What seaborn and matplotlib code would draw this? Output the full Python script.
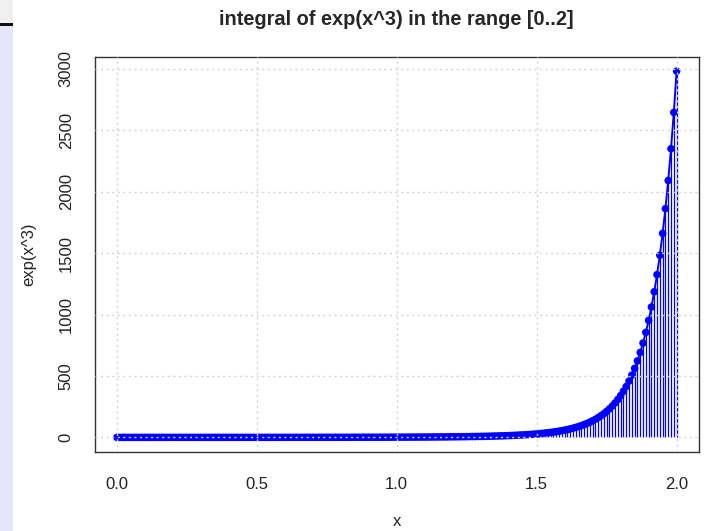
import matplotlib
matplotlib.use("Agg")
import matplotlib.pyplot as plt
import seaborn as sns
import pandas as pd
from matplotlib.patches import Rectangle

# x values (step 0.01 from 0 to 2)
x_vals = [round(i / 100, 2) for i in range(201)]
# exp(x^3) read per point
y_vals = [
    1.00, 1.00, 1.00, 1.00, 1.00, 1.00, 1.00, 1.00, 1.00, 1.00,
    1.00, 1.00, 1.00, 1.00, 1.00, 1.00, 1.00, 1.00, 1.01, 1.01,
    1.01, 1.01, 1.01, 1.01, 1.01, 1.02, 1.02, 1.02, 1.02, 1.02,
    1.03, 1.03, 1.03, 1.04, 1.04, 1.04, 1.05, 1.05, 1.06, 1.06,
    1.07, 1.07, 1.08, 1.08, 1.09, 1.10, 1.10, 1.11, 1.12, 1.12,
    1.13, 1.14, 1.15, 1.16, 1.17, 1.18, 1.19, 1.20, 1.22, 1.23,
    1.24, 1.25, 1.27, 1.28, 1.30, 1.32, 1.33, 1.35, 1.37, 1.39,
    1.41, 1.43, 1.45, 1.48, 1.50, 1.52, 1.55, 1.58, 1.61, 1.64,
    1.67, 1.70, 1.74, 1.77, 1.81, 1.85, 1.89, 1.93, 1.98, 2.02,
    2.07, 2.12, 2.18, 2.24, 2.29, 2.36, 2.42, 2.49, 2.56, 2.64,
    2.72, 2.80, 2.89, 2.98, 3.08, 3.18, 3.29, 3.40, 3.52, 3.65,
    3.78, 3.93, 4.08, 4.23, 4.40, 4.58, 4.76, 4.96, 5.17, 5.39,
    5.63, 5.88, 6.15, 6.43, 6.73, 7.05, 7.39, 7.75, 8.14, 8.56,
    9.00, 9.47, 9.97, 10.51, 11.09, 11.71, 12.37, 13.08, 13.85, 14.67,
    15.55, 16.50, 17.52, 18.62, 19.81, 21.09, 22.47, 23.96, 25.58, 27.33,
    29.22, 31.28, 33.51, 35.93, 38.56, 41.42, 44.54, 47.94, 51.64, 55.69,
    60.10, 64.93, 70.21, 76.00, 82.35, 89.31, 96.96, 105.4, 114.6, 124.8,
    136.1, 148.4, 162.1, 177.3, 194.1, 212.6, 233.2, 256.0, 281.4, 309.6,
    341.1, 376.1, 415.2, 458.9, 507.6, 562.1, 623.3, 691.8, 768.7, 855.2,
    952.6, 1062, 1186, 1325, 1483, 1661, 1862, 2091, 2350, 2645,
    2981,
]
x_ticks = [0.0, 0.5, 1.0, 1.5, 2.0]
x_tick_labels = ["0.0", "0.5", "1.0", "1.5", "2.0"]
y_ticks = [0, 500, 1000, 1500, 2000, 2500, 3000]
y_tick_labels = ["0", "500", "1000", "1500", "2000", "2500", "3000"]
title = "integral of exp(x^3) in the range [0..2]"
x_label = "x"
y_label = "exp(x^3)"

df = pd.DataFrame({"x": x_vals, "y": y_vals})

sns.set_style("white")
plt.rcParams["font.family"] = ["Liberation Sans", "DejaVu Sans"]

W, H = 704, 531
fig = plt.figure(figsize=(W / 100, H / 100), dpi=100)
# left strip decorations
fig.patches.append(Rectangle((0, 0), 13 / W, (H - 26) / H, transform=fig.transFigure,
                             facecolor="#e6e6fa", edgecolor="none", zorder=0))
fig.patches.append(Rectangle((0, (H - 23.5) / H), 13 / W, 23.5 / H, transform=fig.transFigure,
                             facecolor="#f0f0f0", edgecolor="none", zorder=0))
fig.patches.append(Rectangle((0, (H - 26) / H), 13 / W, 2.5 / H, transform=fig.transFigure,
                             facecolor="#111111", edgecolor="none", zorder=0))

left, right, top, bottom = 94.5, 699, 56.5, 452
ax = fig.add_axes([left / W, 1 - bottom / H, (right - left) / W, (bottom - top) / H])

blue = "#0000ff"
ax.vlines(df["x"], 0, df["y"], colors=blue, linewidth=0.9, zorder=2)
sns.lineplot(data=df, x="x", y="y", ax=ax, color=blue, linewidth=1.4, zorder=3)
sns.scatterplot(data=df, x="x", y="y", ax=ax, color=blue, s=30, edgecolor="none", zorder=4)

ax.set_xlim(-0.08, 2.08)
ax.set_ylim(-118, 3100)

ax.set_xticks(x_ticks)
ax.set_xticklabels(x_tick_labels)
ax.set_yticks(y_ticks)
ax.set_yticklabels(y_tick_labels, rotation=90, va="center")

for v in x_ticks:
    ax.axvline(v, color="#d3d3d3", linestyle=(0, (1.5, 2.5)), linewidth=1.0, zorder=5)
for v in y_ticks:
    ax.axhline(v, color="#d3d3d3", linestyle=(0, (1.5, 2.5)), linewidth=1.0, zorder=5)

for s in ax.spines.values():
    s.set_color("#333333")
    s.set_linewidth(1.0)
    s.set_visible(True)

ax.tick_params(axis="both", direction="out", length=8, width=1.0, color="#333333",
               labelsize=12, labelcolor="#222222", pad=10)
ax.tick_params(axis="y", pad=7)

ax.set_xlabel(x_label, fontsize=12, color="#222222", labelpad=16)
ax.set_ylabel(y_label, fontsize=12, color="#222222", labelpad=16)
ax.set_title(title, fontsize=14.4, fontweight="bold", pad=23)

fig.savefig("out.png", dpi=100)
